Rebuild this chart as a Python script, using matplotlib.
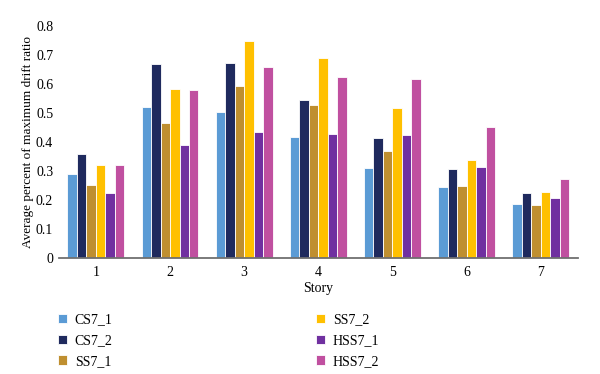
import numpy as np
import matplotlib
matplotlib.use("Agg")
import matplotlib.pyplot as plt

plt.rcParams["font.family"] = ["Liberation Serif", "DejaVu Serif"]

stories = ["1", "2", "3", "4", "5", "6", "7"]
series_names = ["CS7_1", "CS7_2", "SS7_1", "SS7_2", "HSS7_1", "HSS7_2"]
colors = ["#5B9BD5", "#1F2A5E", "#BF8F30", "#FFC000", "#7030A0", "#C050A0"]

cs7_1 = [0.290, 0.522, 0.503, 0.418, 0.310, 0.246, 0.187]
cs7_2 = [0.359, 0.667, 0.673, 0.546, 0.412, 0.307, 0.224]
ss7_1 = [0.250, 0.464, 0.594, 0.528, 0.370, 0.249, 0.182]
ss7_2 = [0.320, 0.581, 0.747, 0.688, 0.518, 0.339, 0.227]
hss7_1 = [0.224, 0.389, 0.435, 0.429, 0.424, 0.314, 0.208]
hss7_2 = [0.319, 0.578, 0.657, 0.625, 0.617, 0.451, 0.271]
values = [cs7_1, cs7_2, ss7_1, ss7_2, hss7_1, hss7_2]

fig = plt.figure(figsize=(6, 3.74), dpi=100)
ax = fig.add_axes([0.098, 0.310, 0.865, 0.621])

x = np.arange(len(stories))
slot = 0.128
for i, (name, vals, c) in enumerate(zip(series_names, values, colors)):
    ax.bar(x + (i - 2.5) * slot, vals, width=slot, color=c,
           edgecolor="white", linewidth=0.6, label=name)

ax.set_xlim(-0.5, 6.5)
ax.set_ylim(0, 0.8)
ax.set_yticks(np.arange(0, 0.81, 0.1))
ax.set_yticklabels(["0"] + [f"{v:.1f}" for v in np.arange(0.1, 0.81, 0.1)])
ax.set_xticks(x)
ax.set_xticklabels(stories)
ax.tick_params(axis="x", length=0, labelsize=10, pad=6)
ax.tick_params(axis="y", length=0, labelsize=10, pad=4)
for s in ["top", "right", "left"]:
    ax.spines[s].set_visible(False)
ax.spines["bottom"].set_color("#707070")
ax.spines["bottom"].set_linewidth(1.3)

ax.set_xlabel("Story", fontsize=10, labelpad=2)
ax.set_ylabel("Average percent of maximum drift ratio", fontsize=9.5, labelpad=1.5)

fig.legend(loc="upper left", bbox_to_anchor=(0.075, 0.195), ncol=2,
           frameon=False, fontsize=10, handlelength=0.65, handleheight=0.65,
           handletextpad=0.6, columnspacing=14.6, labelspacing=0.55)

plt.savefig("out.png", dpi=100)
plt.close()
